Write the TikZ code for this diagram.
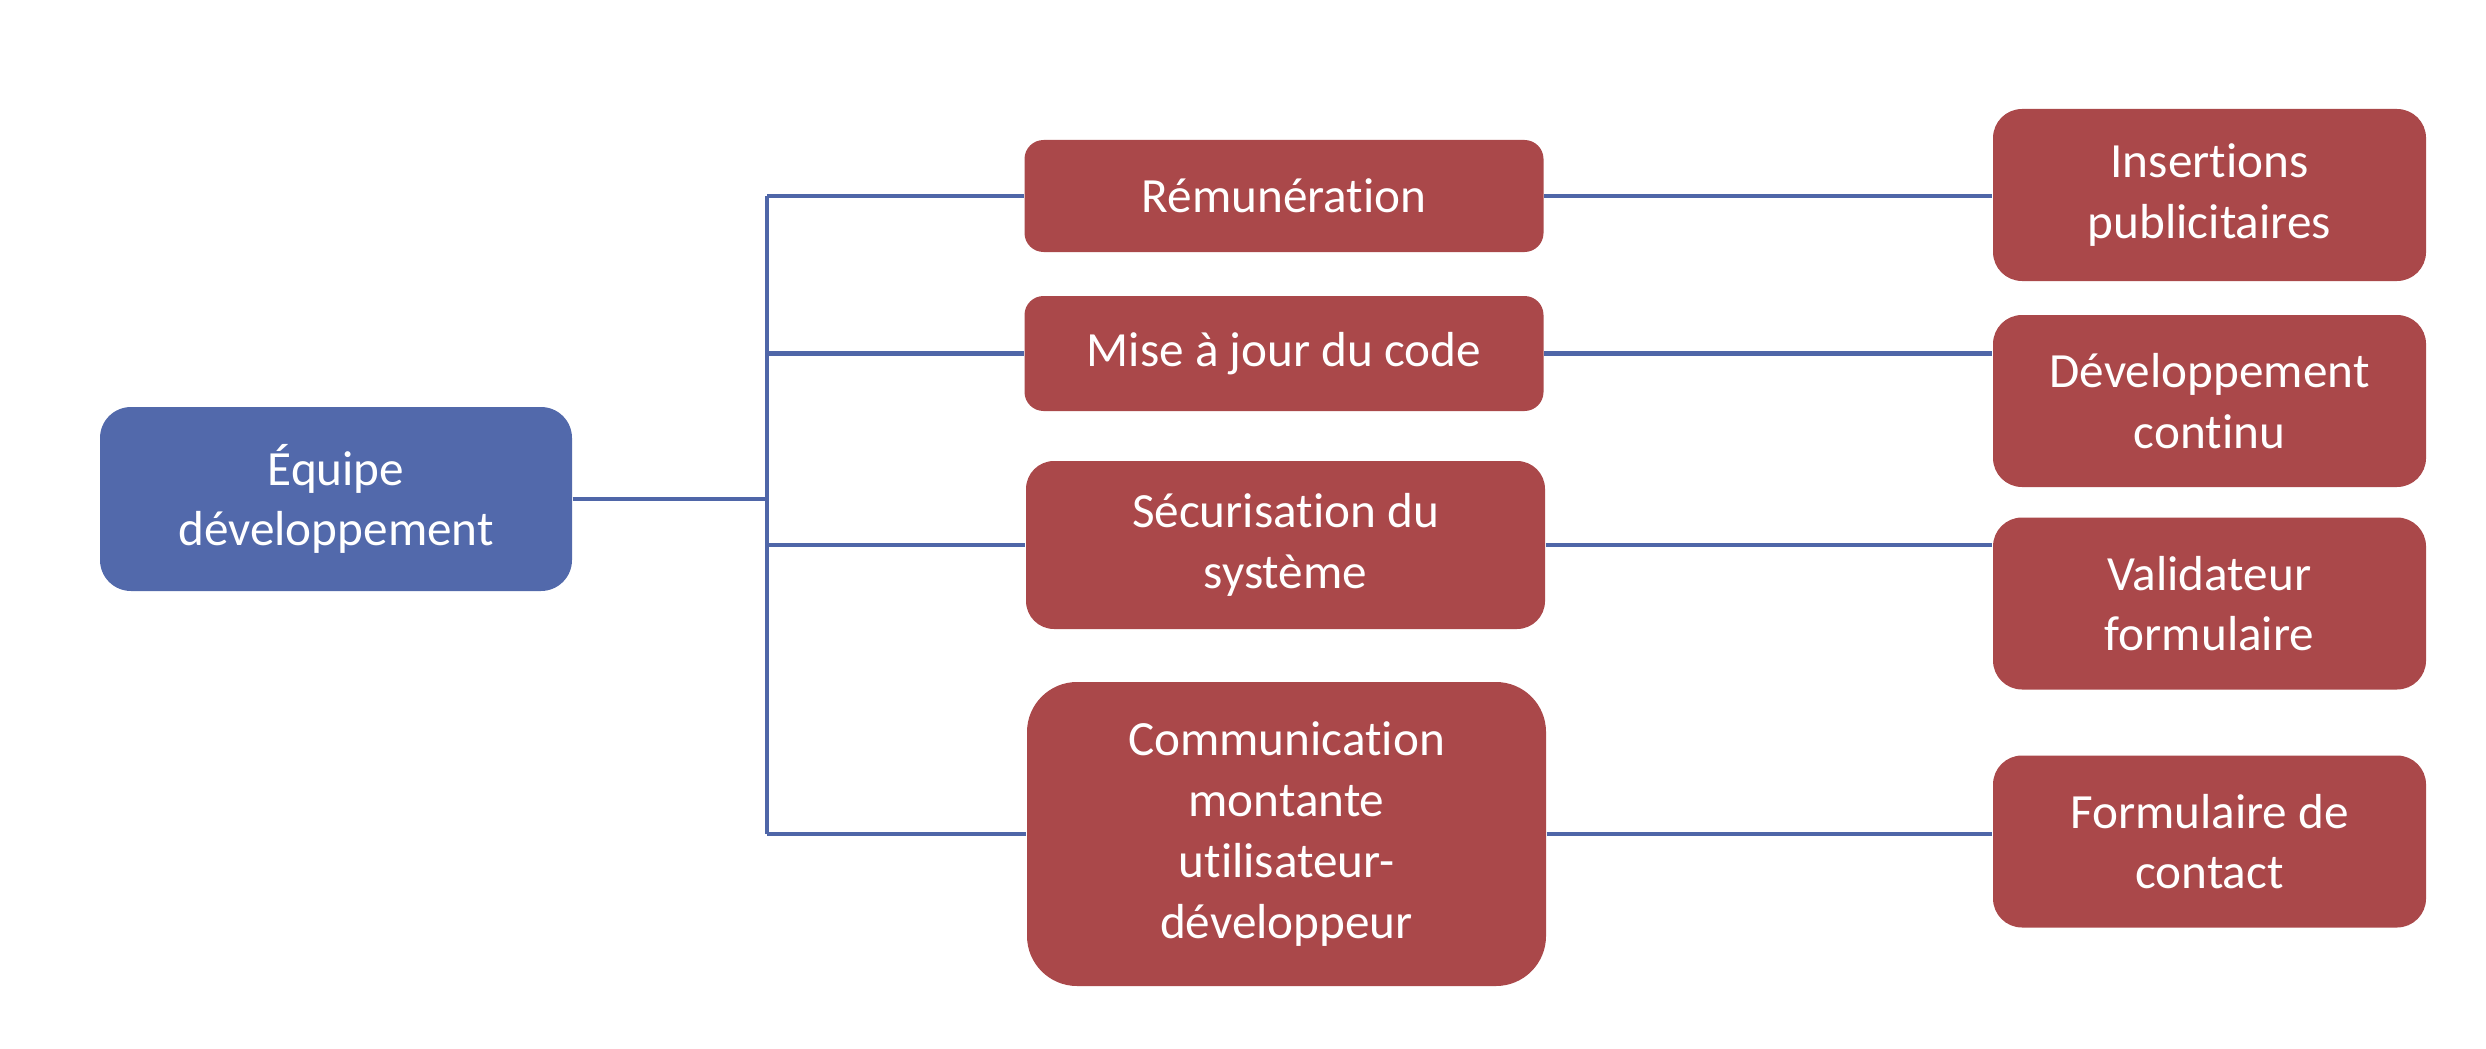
\documentclass[tikz,border=0pt]{standalone}
\usepackage{fontspec}
\setmainfont{Carlito}[Ligatures=NoCommon, Contextuals=NoAlternate]
\usetikzlibrary{calc}

\definecolor{teamblue}{RGB}{82,105,171}
\definecolor{taskred}{RGB}{170,72,74}
\definecolor{linkblue}{RGB}{79,102,168}

\tikzset{
  box/.style={draw=none, text=white, align=center, inner sep=0pt,
    font=\fontsize{14}{17.3}\selectfont},
  team/.style={box, fill=teamblue, minimum width=4.72cm, minimum height=1.84cm, rounded corners=0.31cm},
  task/.style={box, fill=taskred, minimum width=5.19cm},
  tool/.style={box, fill=taskred, minimum width=4.33cm, minimum height=1.72cm, rounded corners=0.29cm},
  link/.style={draw=linkblue, line width=0.042cm}
}

\begin{document}
\begin{tikzpicture}
      \useasboundingbox (0, 0) rectangle (24.86, -10.48);

      \node[team] (team) at (3.36, -4.99) {Équipe\\développement};

      \node[task, minimum height=1.12cm, rounded corners=0.19cm] (rem) at (12.84, -1.96) {Rémunération};
      \node[task, minimum height=1.15cm, rounded corners=0.19cm] (mise) at (12.84, -3.535) {Mise à jour du code};
      \node[task, minimum height=1.68cm, rounded corners=0.28cm] (secu) at (12.855, -5.45) {Sécurisation du\\système};
      \node[task, minimum height=3.04cm, rounded corners=0.5cm] (comm) at (12.865, -8.34) {Communication\\montante\\utilisateur-\\développeur};

      \node[tool] (pub) at (22.095, -1.95) {Insertions\\publicitaires};
      \node[tool] (dev) at (22.095, -4.01) {Développement\\continu};
      \node[tool] (valid) at (22.095, -6.035) {Validateur\\formulaire};
      \node[tool] (contact) at (22.095, -8.415) {Formulaire de\\contact};

      \coordinate (trunk) at (7.67, 0);

      \draw[link] (team.east) -- (team.east -| trunk);
      \draw[link] (trunk |- rem.west) -- (trunk |- comm.west);
      \foreach \n in {rem, mise, secu, comm}
        \draw[link] (trunk |- \n.west) -- (\n.west);

      \draw[link] (rem.east) -- (rem.east -| pub.west);
      \draw[link] (mise.east) -- (mise.east -| dev.west);
      \draw[link] (secu.east) -- (secu.east -| valid.west);
      \draw[link] (comm.east) -- (comm.east -| contact.west);
    \end{tikzpicture}
\end{document}
